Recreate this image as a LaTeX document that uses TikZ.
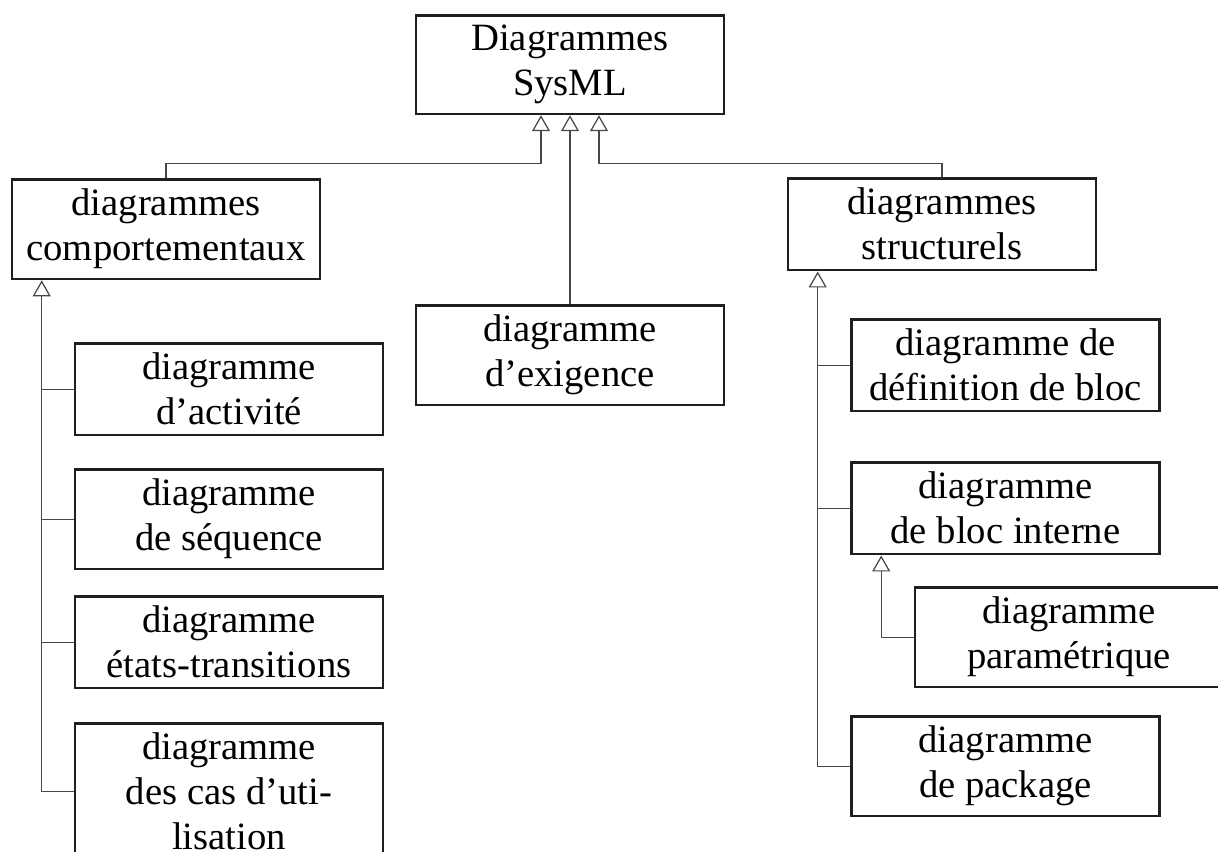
\documentclass[tikz,border=0pt]{standalone}
\usepackage{fontspec}
\setmainfont{Liberation Serif}
\usetikzlibrary{arrows.meta,calc}

\tikzset{
  box/.style={draw=black!88, line width=1.5pt, fill=white, anchor=north,
    minimum width=6.16cm, inner xsep=0pt, inner ysep=5.6pt, align=center,
    font=\fontsize{22}{25.6}\selectfont},
  link/.style={draw=black!72, line width=0.7pt},
  gen/.style={link, -{Triangle[open, length=0.32cm, width=0.36cm, fill=white]}},
}

\begin{document}
\begin{tikzpicture}[x=0.02cm, y=-0.02cm]
  \useasboundingbox (0,0) rectangle (1218,852);
  \clip (0,0) rectangle (1218,852);

  % root and the two families
  \node[box] (top)    at (570,14)  {Diagrammes\\SysML};
  \node[box] (comp)   at (166,178) {diagrammes\\comportementaux};
  \node[box] (struct) at (942,177) {diagrammes\\structurels};
  \node[box] (exig)   at (570,304) {diagramme\\d’exigence};

  % behavioural diagrams
  \node[box] (act)  at (229,342) {diagramme\\d’activité};
  \node[box] (seq)  at (229,468) {diagramme\\de séquence};
  \node[box] (etat) at (229,595) {diagramme\\états-transitions};
  \node[box] (cas)  at (229,722) {diagramme\\des cas d’uti-\\lisation};

  % structural diagrams
  \node[box] (bdd) at (1005.5,318) {diagramme de\\définition de bloc};
  \node[box] (ibd) at (1005.5,461) {diagramme\\de bloc interne};
  \node[box] (par) at (1069,586)   {diagramme\\paramétrique};
  \node[box] (pkg) at (1005.5,715) {diagramme\\de package};

  % connectors to the root
  \path (top.south) ++(-29,0) coordinate (aL) ++(58,0) coordinate (aR);
  \draw[gen] (comp.north) |- ($(aL)+(0,48)$) -- (aL);
  \draw[gen] (struct.north) |- ($(aR)+(0,48)$) -- (aR);
  \draw[gen] (exig.north) -- (top.south -| exig.north);

  % behavioural trunk
  \path (comp.south west) ++(31,0) coordinate (tL);
  \draw[gen] (cas.west) -| (tL);
  \draw[link] (act.west)  -- (act.west -| tL);
  \draw[link] (seq.west)  -- (seq.west -| tL);
  \draw[link] (etat.west) -- (etat.west -| tL);

  % structural trunk
  \path (struct.south west) ++(31,0) coordinate (tR);
  \draw[gen] (pkg.west) -| (tR);
  \draw[link] (bdd.west) -- (bdd.west -| tR);
  \draw[link] (ibd.west) -- (ibd.west -| tR);

  % internal block -> parametric
  \path (ibd.south west) ++(31,0) coordinate (tI);
  \draw[gen] (par.west) -| (tI);
\end{tikzpicture}
\end{document}
